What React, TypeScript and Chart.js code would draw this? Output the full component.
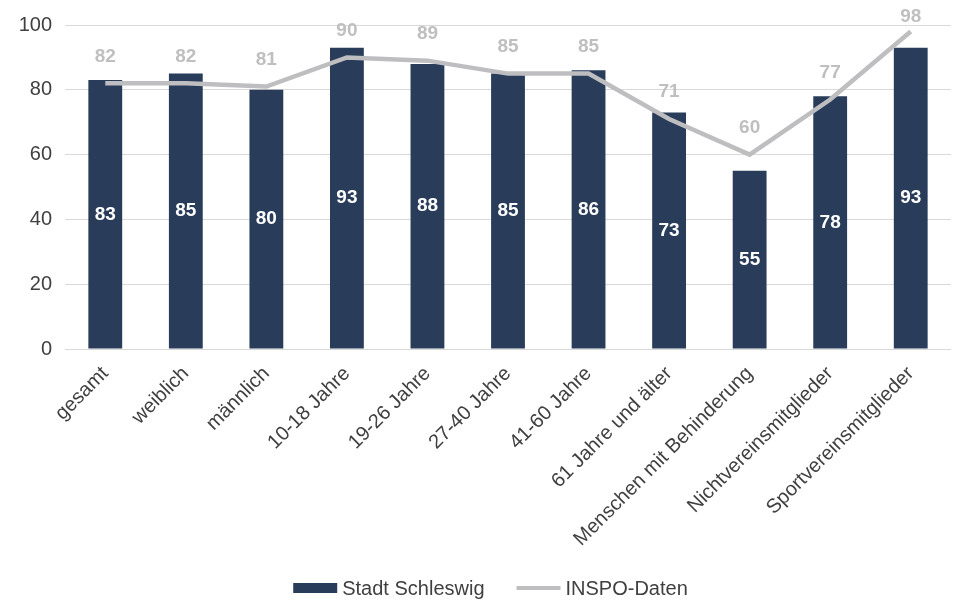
import React, { useEffect, useRef } from "react";
import { Chart, registerables } from "chart.js";

Chart.register(...registerables);

const categories = [
  "gesamt",
  "weiblich",
  "männlich",
  "10-18 Jahre",
  "19-26 Jahre",
  "27-40 Jahre",
  "41-60 Jahre",
  "61 Jahre und älter",
  "Menschen mit Behinderung",
  "Nichtvereinsmitglieder",
  "Sportvereinsmitglieder",
];
const stadtSchleswig = [83, 85, 80, 93, 88, 85, 86, 73, 55, 78, 93];
const inspoDaten = [82, 82, 81, 90, 89, 85, 85, 71, 60, 77, 98];
const yTicks = [0, 20, 40, 60, 80, 100];

const BAR_COLOR = "#293c5a";
const LINE_COLOR = "#bebec0";
const TEXT_COLOR = "#404040";
const FONT = "'Liberation Sans', Arial, sans-serif";

const labelPlugin = {
  id: "valueLabels",
  afterDatasetsDraw(chart: any) {
    const ctx = chart.ctx;
    ctx.save();
    ctx.font = `bold 19px ${FONT}`;
    ctx.textAlign = "center";
    ctx.textBaseline = "middle";
    const barMeta = chart.getDatasetMeta(0);
    barMeta.data.forEach((el: any, i: number) => {
      const y = (el.y + el.base) / 2;
      ctx.fillStyle = "#ffffff";
      ctx.fillText(String(stadtSchleswig[i]), el.x, y);
    });
    const lineMeta = chart.getDatasetMeta(1);
    lineMeta.data.forEach((el: any, i: number) => {
      const y = Math.max(el.y - 27, 17);
      ctx.fillStyle = "#bfbfbf";
      ctx.fillText(String(inspoDaten[i]), el.x, y);
    });
    ctx.restore();
  },
};

const legendPlugin = {
  id: "customLegend",
  afterDraw(chart: any) {
    const ctx = chart.ctx;
    ctx.save();
    ctx.font = `20px ${FONT}`;
    ctx.textBaseline = "middle";
    ctx.textAlign = "left";
    const names = chart.data.datasets.map((d: any) => d.label as string);
    const symW = 44;
    const gapText = 5;
    const gapItem = 32;
    const widths = names.map((n: string) => ctx.measureText(n).width);
    const total =
      widths.reduce((a: number, w: number) => a + w + symW + gapText, 0) +
      gapItem * (names.length - 1);
    let x = chart.width / 2 + 14 - total / 2;
    const y = chart.height - 15;
    names.forEach((n: string, i: number) => {
      if (i === 0) {
        ctx.fillStyle = BAR_COLOR;
        ctx.fillRect(x, y - 5, symW, 10);
      } else {
        ctx.strokeStyle = LINE_COLOR;
        ctx.lineWidth = 4;
        ctx.beginPath();
        ctx.moveTo(x, y);
        ctx.lineTo(x + symW, y);
        ctx.stroke();
      }
      ctx.fillStyle = TEXT_COLOR;
      ctx.fillText(n, x + symW + gapText, y + 1);
      x += symW + gapText + widths[i] + gapItem;
    });
    ctx.restore();
  },
};

export default function App() {
  const ref = useRef<HTMLCanvasElement | null>(null);
  useEffect(() => {
    document.body.style.margin = "0";
    const chart = new Chart(ref.current as HTMLCanvasElement, {
      type: "bar",
      data: {
        labels: categories,
        datasets: [
          {
            type: "bar",
            label: "Stadt Schleswig",
            data: stadtSchleswig,
            backgroundColor: BAR_COLOR,
            categoryPercentage: 1,
            barPercentage: 0.42,
            order: 2,
          },
          {
            type: "line",
            label: "INSPO-Daten",
            data: inspoDaten,
            borderColor: LINE_COLOR,
            backgroundColor: LINE_COLOR,
            borderWidth: 4.5,
            pointRadius: 0,
            tension: 0,
            order: 1,
          },
        ] as any,
      },
      options: {
        animation: false,
        responsive: false,
        maintainAspectRatio: false,
        layout: { padding: { top: 19, right: 2, left: 0, bottom: 53 } },
        plugins: {
          tooltip: { enabled: false },
          legend: { display: false },
        },
        scales: {
          x: {
            grid: { display: false },
            border: { display: false },
            ticks: {
              color: TEXT_COLOR,
              font: { family: FONT, size: 20 },
              minRotation: 45,
              maxRotation: 45,
              autoSkip: false,
              padding: 5,
            },
            afterFit: (s: any) => {
              s.height = 201;
            },
          },
          y: {
            min: 0,
            max: 100,
            afterBuildTicks: (s: any) => {
              s.ticks = yTicks.map((v) => ({ value: v }));
            },
            grid: { color: "#d9d9d9", lineWidth: 1, drawTicks: false },
            border: { display: false },
            ticks: {
              color: TEXT_COLOR,
              font: { family: FONT, size: 20 },
              padding: 13,
            },
            afterFit: (s: any) => {
              s.width = 65;
            },
          },
        },
      },
      plugins: [labelPlugin, legendPlugin],
    });
    return () => chart.destroy();
  }, []);
  return (
    <div style={{ width: 953, height: 603 }}>
      <canvas ref={ref} width={953} height={603} style={{ display: "block" }} />
    </div>
  );
}
